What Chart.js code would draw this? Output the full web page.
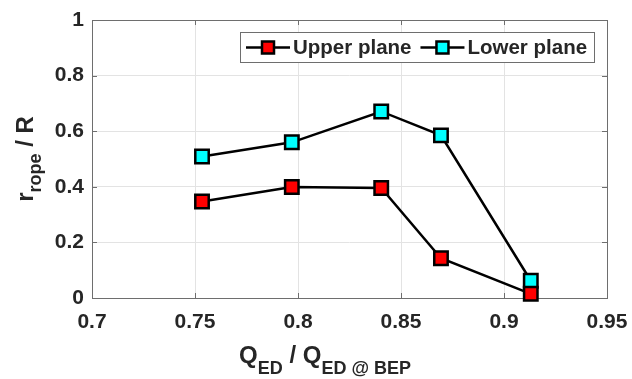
<!DOCTYPE html>
<html>
<head>
<meta charset="utf-8">
<script src="https://cdn.jsdelivr.net/npm/chart.js@4"></script>
<style>
  body { margin: 0; background: #fff; }
  #rope { display: block; }
</style>
</head>
<body>
<canvas id="rope" width="632" height="379"></canvas>
<script>
// flow rate ratio on x, vortex rope radius ratio on y
const qRatio = [0.7534, 0.797, 0.8404, 0.8694, 0.913];
const upperPlane = [0.347, 0.399, 0.396, 0.143, 0.015];
const lowerPlane = [0.509, 0.560, 0.671, 0.585, 0.062];
const seriesNames = ["Upper plane", "Lower plane"];
const xTicks = [0.7, 0.75, 0.8, 0.85, 0.9, 0.95];
const yTicks = [0, 0.2, 0.4, 0.6, 0.8, 1];

const colors = {
    red: '#ff0000',
    cyan: '#00ffff',
    line: '#000000',
    text: '#262626',
    axis: '#6e6e6e',
    grid: '#e3e3e3'
};
const FONT = 'Arial, "Liberation Sans", sans-serif';

function points(ys) {
    return qRatio.map((x, i) => ({ x: x, y: ys[i] }));
}

// draw text with subscript parts, centred on cx
function drawMixed(ctx, parts, cx, baseY, bigSize, smallSize, subDrop) {
    let total = 0;
    parts.forEach(p => {
        ctx.font = 'bold ' + (p.sub ? smallSize : bigSize) + 'px ' + FONT;
        p.w = ctx.measureText(p.t).width;
        total += p.w;
    });
    let x = cx - total / 2;
    ctx.textAlign = 'left';
    ctx.textBaseline = 'alphabetic';
    parts.forEach(p => {
        ctx.font = 'bold ' + (p.sub ? smallSize : bigSize) + 'px ' + FONT;
        ctx.fillText(p.t, x, baseY + (p.sub ? subDrop : 0));
        x += p.w;
    });
}

const matlabLook = {
    id: 'matlabLook',
    beforeDatasetsDraw(chart) {
        const { ctx, chartArea: a, scales } = chart;
        ctx.save();
        ctx.strokeStyle = colors.axis;
        ctx.lineWidth = 1;
        ctx.strokeRect(a.left + 0.5, a.top + 0.5, a.right - a.left, a.bottom - a.top);
        ctx.beginPath();
        xTicks.forEach(v => {
            const px = Math.round(scales.x.getPixelForValue(v)) + 0.5;
            ctx.moveTo(px, a.bottom); ctx.lineTo(px, a.bottom - 5);
            ctx.moveTo(px, a.top); ctx.lineTo(px, a.top + 5);
        });
        yTicks.forEach(v => {
            const py = Math.round(scales.y.getPixelForValue(v)) + 0.5;
            ctx.moveTo(a.left, py); ctx.lineTo(a.left + 5, py);
            ctx.moveTo(a.right, py); ctx.lineTo(a.right - 5, py);
        });
        ctx.stroke();
        ctx.restore();
    },
    afterDraw(chart) {
        const { ctx, chartArea: a } = chart;
        ctx.save();
        ctx.fillStyle = colors.text;

        // x title
        drawMixed(ctx, [
            { t: 'Q' }, { t: 'ED', sub: true }, { t: ' / Q' }, { t: 'ED @ BEP', sub: true }
        ], 325, 363, 24, 18, 11);

        // y title, rotated
        ctx.save();
        ctx.translate(33, (a.top + a.bottom) / 2);
        ctx.rotate(-Math.PI / 2);
        drawMixed(ctx, [
            { t: 'r' }, { t: 'rope', sub: true }, { t: ' / R' }
        ], 0, 0, 24, 18, 8);
        ctx.restore();

        // legend box
        const lx = 240, ly = 32, lw = 354, lh = 30;
        ctx.fillStyle = '#fff';
        ctx.fillRect(lx, ly, lw, lh);
        ctx.strokeStyle = colors.axis;
        ctx.lineWidth = 1;
        ctx.strokeRect(lx + 0.5, ly + 0.5, lw, lh);
        const cy = ly + lh / 2 + 0.5;
        let x = lx + 6;
        chart.data.datasets.forEach(ds => {
            ctx.strokeStyle = colors.line;
            ctx.lineWidth = 2.5;
            ctx.beginPath();
            ctx.moveTo(x, cy); ctx.lineTo(x + 44, cy);
            ctx.stroke();
            ctx.fillStyle = ds.pointBackgroundColor;
            ctx.fillRect(x + 22 - 6, cy - 6, 12, 12);
            ctx.strokeRect(x + 22 - 6, cy - 6, 12, 12);
            ctx.fillStyle = colors.text;
            ctx.font = 'bold 20.5px ' + FONT;
            ctx.textAlign = 'left';
            ctx.textBaseline = 'middle';
            ctx.fillText(ds.label, x + 47, cy + 1);
            x += 47 + ctx.measureText(ds.label).width + 9;
        });
        ctx.restore();
    }
};

const seriesStyle = {
    borderColor: colors.line,
    borderWidth: 2.5,
    pointStyle: 'rect',
    pointRadius: 9.5,
    pointHoverRadius: 9.5,
    pointBorderColor: colors.line,
    pointBorderWidth: 2.5,
    tension: 0,
    fill: false,
    clip: false
};

let ropeChart = new Chart(document.getElementById("rope").getContext("2d"), {
    type: 'line',
    data: {
        datasets: [
            Object.assign({ label: seriesNames[0], data: points(upperPlane), pointBackgroundColor: colors.red }, seriesStyle),
            Object.assign({ label: seriesNames[1], data: points(lowerPlane), pointBackgroundColor: colors.cyan }, seriesStyle)
        ]
    },
    options: {
        responsive: false,
        animation: false,
        events: [],
        layout: {
            padding: { left: 0, right: 25, top: 20, bottom: 0 }
        },
        plugins: {
            legend: { display: false },
            tooltip: { enabled: false }
        },
        scales: {
            x: {
                type: 'linear',
                min: 0.7,
                max: 0.95,
                afterBuildTicks: s => { s.ticks = xTicks.map(v => ({ value: v })); },
                afterFit: s => { s.height = 81; s.paddingLeft = 0; s.paddingRight = 0; },
                grid: { color: colors.grid, drawTicks: false },
                border: { display: false },
                ticks: {
                    padding: 12,
                    color: colors.text,
                    font: { family: FONT, size: 21, weight: 'bold' },
                    callback: v => String(parseFloat(v.toFixed(2)))
                }
            },
            y: {
                min: 0,
                max: 1,
                afterBuildTicks: s => { s.ticks = yTicks.map(v => ({ value: v })); },
                afterFit: s => { s.width = 92; s.paddingTop = 0; s.paddingBottom = 0; },
                grid: { color: colors.grid, drawTicks: false },
                border: { display: false },
                ticks: {
                    padding: 8,
                    color: colors.text,
                    font: { family: FONT, size: 21, weight: 'bold' },
                    callback: v => String(parseFloat(v.toFixed(1)))
                }
            }
        }
    },
    plugins: [matlabLook]
});
</script>
</body>
</html>
